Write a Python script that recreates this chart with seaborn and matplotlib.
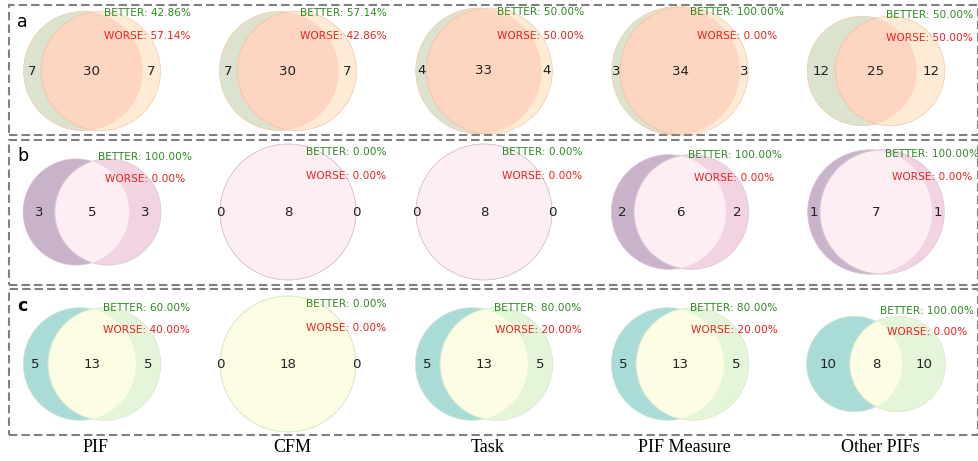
import numpy as np
import matplotlib
matplotlib.use("Agg")
import matplotlib.pyplot as plt
from matplotlib.patches import Circle, Rectangle
import seaborn as sns

# values
row_names = ["a", "b", "c"]
columns = ["PIF", "CFM", "Task", "PIF Measure", "Other PIFs"]
left_only = [[7, 7, 4, 3, 12], [3, 0, 0, 2, 1], [5, 0, 5, 5, 10]]
both = [[30, 30, 33, 34, 25], [5, 8, 8, 6, 7], [13, 18, 13, 13, 8]]
right_only = [[7, 7, 4, 3, 12], [3, 0, 0, 2, 1], [5, 0, 5, 5, 10]]
better = [[42.86, 57.14, 50.00, 100.00, 50.00],
          [100.00, 0.00, 0.00, 100.00, 100.00],
          [60.00, 0.00, 80.00, 80.00, 100.00]]
worse = [[57.14, 42.86, 50.00, 0.00, 50.00],
         [0.00, 0.00, 0.00, 0.00, 0.00],
         [40.00, 0.00, 20.00, 20.00, 0.00]]

# left, right, intersection, edge colours per row
row_colors = [("#dbe3cf", "#fdebd5", "#fdd5c0", "#f6c7a8"),
              ("#c9b3ca", "#f1d3e1", "#fdeef4", "#dcc3d2"),
              ("#a9dbd7", "#e4f5da", "#fcfde2", "#d6e8cf")]

sns.set_theme(style="white")
plt.rcParams["font.family"] = ["DejaVu Sans"]

W, H = 979, 461
fig = plt.figure(figsize=(W / 100, H / 100), dpi=100)


def lens_area(r1, r2, d):
    if d >= r1 + r2:
        return 0.0
    if d <= abs(r1 - r2):
        return np.pi * min(r1, r2) ** 2
    a = r1 ** 2 * np.arccos((d ** 2 + r1 ** 2 - r2 ** 2) / (2 * d * r1))
    b = r2 ** 2 * np.arccos((d ** 2 + r2 ** 2 - r1 ** 2) / (2 * d * r2))
    c = 0.5 * np.sqrt((-d + r1 + r2) * (d + r1 - r2) * (d - r1 + r2) * (d + r1 + r2))
    return a + b - c


def venn_geometry(a, ab, b):
    # area-proportional circles, total area normalised to 1
    total = float(a + ab + b)
    r1 = np.sqrt((a + ab) / total / np.pi)
    r2 = np.sqrt((b + ab) / total / np.pi)
    target = ab / total
    lo, hi = abs(r1 - r2), r1 + r2
    for _ in range(80):
        mid = (lo + hi) / 2
        if lens_area(r1, r2, mid) > target:
            lo = mid
        else:
            hi = mid
    d = (lo + hi) / 2
    return r1, r2, d


row_centers = [71, 212, 364]
ax_w = 160

for i in range(3):
    cl, cr, ci, ce = row_colors[i]
    for j in range(5):
        r1, r2, d = venn_geometry(left_only[i][j], both[i][j], right_only[i][j])
        x1, x2 = -d / 2, d / 2
        xmin = min(x1 - r1, x2 - r2) - 0.1
        xmax = max(x1 + r1, x2 + r2) + 0.1
        ymax = max(r1, r2) + 0.1
        ymin = -ymax
        ax_h = ax_w * (ymax - ymin) / (xmax - xmin)
        cx = 92 + 196 * j
        cy = row_centers[i]
        ax = fig.add_axes([(cx - ax_w / 2) / W, 1 - (cy + ax_h / 2) / H,
                           ax_w / W, ax_h / H])
        ax.set_xlim(xmin, xmax)
        ax.set_ylim(ymin, ymax)
        ax.set_axis_off()

        c_left = Circle((x1, 0), r1, facecolor=cl, edgecolor=ce, lw=0.5)
        c_right = Circle((x2, 0), r2, facecolor=cr, edgecolor=ce, lw=0.5)
        ax.add_patch(c_left)
        ax.add_patch(c_right)
        c_mid = Circle((x2, 0), r2, facecolor=ci, edgecolor=ce, lw=0.7)
        ax.add_patch(c_mid)
        c_mid.set_clip_path(c_left)

        lx = ((x1 - r1) + (x2 - r2)) / 2
        rx = ((x1 + r1) + (x2 + r2)) / 2
        mx = ((x2 - r2) + (x1 + r1)) / 2
        for xx, val in [(lx, left_only[i][j]), (mx, both[i][j]), (rx, right_only[i][j])]:
            ax.text(xx, 0, str(val), ha="center", va="center", fontsize=9.6,
                    color="#222222")

        ax.text(0.48, 0.5, f"BETTER: {better[i][j]:.2f}%", ha="center", va="center",
                fontsize=7.6, color="#2e8b22", clip_on=False)
        ax.text(0.48, 0.3, f"WORSE: {worse[i][j]:.2f}%", ha="center", va="center",
                fontsize=7.6, color="#e8231e", clip_on=False)

# dashed boxes around each row
boxes = [(5, 135), (140, 285), (289, 435)]
for top, bottom in boxes:
    rect = Rectangle((9 / W, 1 - bottom / H), (978 - 9) / W, (bottom - top) / H,
                     transform=fig.transFigure, fill=False, edgecolor="#808080",
                     lw=1.5, linestyle=(0, (4, 2)))
    fig.add_artist(rect)

# row letters
label_base = [27, 161, 311]
for i, name in enumerate(row_names):
    fig.text(17 / W, 1 - label_base[i] / H, name, ha="left", va="baseline",
             fontsize=12.5, color="black", weight="bold" if name == "c" else "normal")

# column names
for j, name in enumerate(columns):
    fig.text((96 + 196 * j) / W, 1 - 447 / H, name, ha="center", va="center",
             fontsize=13, family="Liberation Serif", color="black")

fig.savefig("out.png", dpi=100)
